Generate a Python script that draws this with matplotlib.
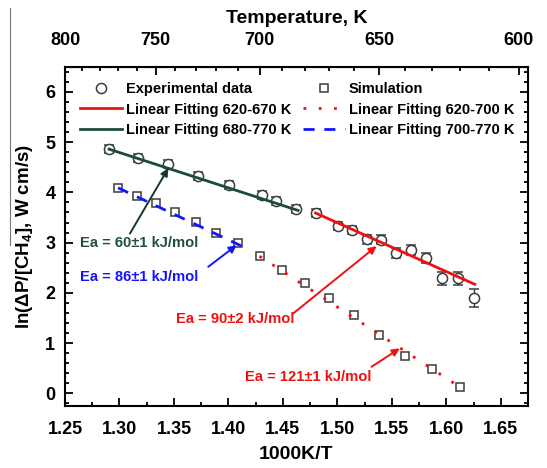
import matplotlib
matplotlib.use("Agg")
import matplotlib.pyplot as plt
from matplotlib.lines import Line2D

plt.rcParams['font.family'] = ['Liberation Sans', 'DejaVu Sans']
plt.rcParams['font.weight'] = 'bold'
plt.rcParams['mathtext.fontset'] = 'custom'
plt.rcParams['mathtext.rm'] = 'Liberation Sans:bold'
plt.rcParams['mathtext.bf'] = 'Liberation Sans:bold'
plt.rcParams['mathtext.default'] = 'rm'

# ---- data ----
exp_x = [1.2904, 1.3173, 1.3442, 1.3717, 1.4008, 1.4304, 1.4436, 1.4619, 1.4800,
         1.5002, 1.5130, 1.5268, 1.5399, 1.5537, 1.5680, 1.5818, 1.5965, 1.6108, 1.6255]
exp_y = [4.86, 4.69, 4.555, 4.33, 4.14, 3.94, 3.825, 3.67, 3.59,
         3.33, 3.25, 3.07, 3.06, 2.80, 2.85, 2.685, 2.29, 2.29, 1.89]
exp_err = [0.08, 0.08, 0.08, 0.08, 0.08, 0.08, 0.08, 0.08, 0.08,
           0.08, 0.08, 0.09, 0.09, 0.10, 0.10, 0.10, 0.13, 0.13, 0.18]

sim_x = [1.2987, 1.3158, 1.3333, 1.3514, 1.3699, 1.3889, 1.4085, 1.4286,
         1.4493, 1.4706, 1.4925, 1.5152, 1.5385, 1.5625, 1.5873, 1.6129]
sim_y = [4.09, 3.925, 3.78, 3.60, 3.41, 3.195, 3.00, 2.73,
         2.46, 2.195, 1.89, 1.57, 1.16, 0.75, 0.48, 0.13]

fit_exp_hi_x = [1.2904, 1.4640]   # 680-770 K
fit_exp_hi_y = [4.86, 3.64]
fit_exp_lo_x = [1.4800, 1.6262]   # 620-670 K
fit_exp_lo_y = [3.59, 2.17]
fit_sim_hi_x = [1.2987, 1.4182]   # 700-770 K
fit_sim_hi_y = [4.09, 2.87]
fit_sim_lo_x = [1.4286, 1.6129]   # 620-700 K
fit_sim_lo_y = [2.73, 0.12]

labels_legend = ['Experimental data', 'Linear Fitting 620-670 K', 'Linear Fitting 680-770 K',
                 'Simulation', 'Linear Fitting 620-700 K', 'Linear Fitting 700-770 K']

ann_texts = ['Ea = 60±1 kJ/mol', 'Ea = 86±1 kJ/mol', 'Ea = 90±2 kJ/mol', 'Ea = 121±1 kJ/mol']
ann_text_xy = [(1.2638, 2.99), (1.2638, 2.32), (1.461, 1.49), (1.531, 0.33)]
ann_tail_xy = [(1.3096, 3.18), (1.3815, 2.52), (1.4594, 1.59), (1.5313, 0.53)]
ann_head_xy = [(1.3448, 4.48), (1.4075, 2.95), (1.5360, 2.93), (1.5573, 0.895)]

top_ticks_T = [800, 750, 700, 650, 600]
top_minor_T = list(range(790, 600, -10))

GREEN = '#1b4a3e'
RED = '#f01010'
BLUE = '#1414ff'
MK = '#3c3c3c'
ann_colors = ['#1f4f42', BLUE, RED, RED]
ann_ha = ['left', 'left', 'right', 'right']

fig = plt.figure(figsize=(5.47, 4.68), dpi=100)
ax = fig.add_axes([65/547, 1-406/468, (528-65)/547, (406-66.7)/468])

ax.errorbar(exp_x, exp_y, yerr=exp_err, fmt='o', ms=7.3, mfc='white', mec=MK, mew=1.1,
            ecolor=MK, elinewidth=1.0, capsize=3.5, capthick=1.0, zorder=2)
ax.plot(sim_x, sim_y, 's', ms=6.3, mfc='white', mec=MK, mew=1.1, zorder=2)

ax.plot(fit_exp_hi_x, fit_exp_hi_y, '-', color=GREEN, lw=2.0, zorder=3)
ax.plot(fit_exp_lo_x, fit_exp_lo_y, '-', color=RED, lw=2.0, zorder=3)
ax.plot(fit_sim_hi_x, fit_sim_hi_y, color=BLUE, lw=2.0, linestyle=(0, (4, 3.5)), zorder=3)
ax.plot(fit_sim_lo_x, fit_sim_lo_y, color=RED, lw=2.0, linestyle=(0, (1.0, 4.5)), zorder=3)

for t, txy, tail, head, c, ha in zip(ann_texts, ann_text_xy, ann_tail_xy, ann_head_xy, ann_colors, ann_ha):
    ax.text(txy[0], txy[1], t, color=c, fontsize=10.6, fontweight='bold', ha=ha, va='center', zorder=5)
    acol = '#17352e' if c == ann_colors[0] else c
    ax.annotate('', xy=head, xytext=tail,
                arrowprops=dict(arrowstyle='-|>', color=acol, lw=1.4, mutation_scale=11,
                                shrinkA=0, shrinkB=0), zorder=5)

ax.set_xlim(1.25, 1.675)
ax.set_ylim(-0.25, 6.5)
ax.set_xticks([1.25, 1.30, 1.35, 1.40, 1.45, 1.50, 1.55, 1.60, 1.65])
ax.set_xticks([1.275 + 0.05*i for i in range(8)], minor=True)
ax.set_xticklabels(['1.25', '1.30', '1.35', '1.40', '1.45', '1.50', '1.55', '1.60', '1.65'])
ax.set_yticks([0, 1, 2, 3, 4, 5, 6])
ax.set_yticks([i*0.2 for i in range(-1, 33) if i % 5 != 0], minor=True)
ax.tick_params(which='both', direction='in', right=True, width=1.3)
ax.tick_params(axis='x', which='major', length=6, labelsize=13, pad=10.5, top=False)
ax.tick_params(axis='x', which='minor', length=3, top=False)
ax.tick_params(axis='y', which='major', length=6, labelsize=13, pad=7)
ax.tick_params(axis='y', which='minor', length=3)
for s in ax.spines.values():
    s.set_linewidth(1.5)

ax.set_xlabel('1000K/T', fontsize=14, fontweight='bold', labelpad=6)
ax.set_ylabel('ln(ΔP/[CH$_4$], W cm/s)', fontsize=13.5, fontweight='bold', labelpad=7)

sec = ax.secondary_xaxis('top', functions=(lambda x: 1000.0/x, lambda T: 1000.0/T))
sec.set_xticks(top_ticks_T)
sec.set_xticks(top_minor_T, minor=True)
sec.tick_params(which='both', direction='in', width=1.3)
sec.tick_params(which='major', length=6, labelsize=13, pad=12.5)
sec.tick_params(which='minor', length=3)
sec.set_xlabel('Temperature, K', fontsize=14, fontweight='bold', labelpad=7)

handles = [
    Line2D([], [], marker='o', ls='none', ms=7.3, mfc='white', mec=MK, mew=1.1),
    Line2D([], [], color=RED, lw=2.0),
    Line2D([], [], color=GREEN, lw=2.0),
    Line2D([], [], marker='s', ls='none', ms=6.3, mfc='white', mec=MK, mew=1.1),
    Line2D([], [], color=RED, lw=2.0, linestyle=(0, (1.0, 4.5))),
    Line2D([], [], color=BLUE, lw=2.0, linestyle=(0, (4, 3.5))),
]
leg = ax.legend(handles, labels_legend, ncol=2, frameon=False, loc='upper left',
                bbox_to_anchor=(0.032, 0.955), borderpad=0, borderaxespad=0,
                handlelength=2.9, handletextpad=0.25, columnspacing=0.8,
                labelspacing=0.45, prop={'weight': 'bold', 'size': 10.5})

# thin scan-border line at the far left of the reference image
fig.add_artist(Line2D([10/547, 10/547], [1-8/468, 1-245/468], transform=fig.transFigure,
                      color='#777777', lw=0.8))

fig.savefig('out.png', dpi=100)
